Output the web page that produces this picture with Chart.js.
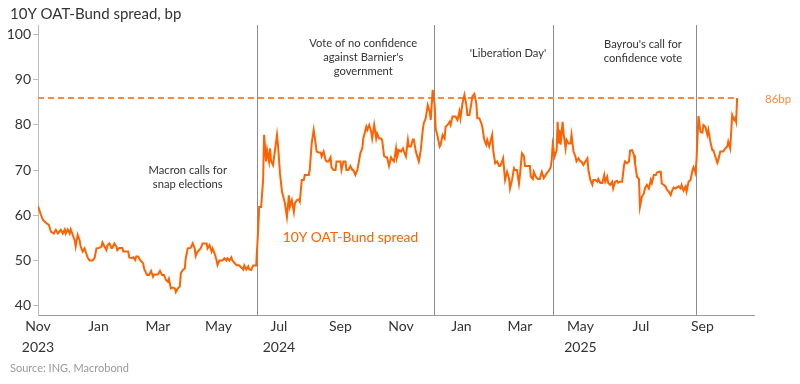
<!DOCTYPE html>
<html>
<head>
<meta charset="utf-8">
<script src="https://cdn.jsdelivr.net/npm/chart.js@4.4.1/dist/chart.umd.min.js"></script>
<style>
  html, body { margin: 0; padding: 0; background: #ffffff; }
  #wrap { width: 800px; height: 384px; position: relative; }
</style>
</head>
<body>
<div id="wrap"><canvas id="c" width="800" height="384"></canvas></div>
<script>
// ---------- DATA ----------
const chartTitle = "10Y OAT-Bund spread, bp";
const sourceText = "Source: ING, Macrobond";
const seriesName = "10Y OAT-Bund spread";

const dates = [
"2023-11-01","2023-11-04","2023-11-06","2023-11-09","2023-11-12","2023-11-14","2023-11-17","2023-11-19","2023-11-21","2023-11-24","2023-11-26","2023-11-28","2023-11-29",
"2023-12-01","2023-12-03","2023-12-04","2023-12-06","2023-12-08","2023-12-09","2023-12-11","2023-12-13","2023-12-14","2023-12-16","2023-12-18","2023-12-19","2023-12-21","2023-12-23","2023-12-26","2023-12-28","2023-12-30",
"2024-01-02","2024-01-04","2024-01-05","2024-01-07","2024-01-09","2024-01-10","2024-01-12","2024-01-14","2024-01-15","2024-01-17","2024-01-19","2024-01-20","2024-01-22","2024-01-25","2024-01-26","2024-01-31",
"2024-02-01","2024-02-03","2024-02-05","2024-02-07","2024-02-08","2024-02-10","2024-02-12","2024-02-15","2024-02-16","2024-02-19","2024-02-21","2024-02-23","2024-02-25","2024-02-26",
"2024-03-01","2024-03-03","2024-03-05","2024-03-07","2024-03-09","2024-03-11","2024-03-12","2024-03-14","2024-03-16","2024-03-18","2024-03-19","2024-03-21","2024-03-23","2024-03-24","2024-03-26","2024-03-28","2024-03-29","2024-03-31",
"2024-04-03","2024-04-05","2024-04-07","2024-04-08","2024-04-10","2024-04-13","2024-04-15","2024-04-19","2024-04-20","2024-04-22","2024-04-24","2024-04-25","2024-04-27","2024-04-29","2024-04-30",
"2024-05-02","2024-05-05","2024-05-07","2024-05-09","2024-05-10","2024-05-12","2024-05-14","2024-05-15","2024-05-19","2024-05-22","2024-05-26","2024-05-27","2024-05-29","2024-05-31",
"2024-06-01","2024-06-03","2024-06-05","2024-06-08","2024-06-10","2024-06-11","2024-06-13","2024-06-15","2024-06-16","2024-06-18","2024-06-19","2024-06-21","2024-06-22","2024-06-23","2024-06-25","2024-06-27","2024-06-29","2024-06-30",
"2024-07-02","2024-07-04","2024-07-05","2024-07-07","2024-07-09","2024-07-11","2024-07-12","2024-07-14","2024-07-16","2024-07-17","2024-07-19","2024-07-21","2024-07-22","2024-07-24","2024-07-26","2024-07-27","2024-07-31",
"2024-08-01","2024-08-03","2024-08-05","2024-08-06","2024-08-08","2024-08-10","2024-08-12","2024-08-13","2024-08-15","2024-08-17","2024-08-18","2024-08-20","2024-08-22","2024-08-23","2024-08-25","2024-08-27","2024-08-28",
"2024-09-01","2024-09-02","2024-09-04","2024-09-06","2024-09-07","2024-09-09","2024-09-11","2024-09-13","2024-09-14","2024-09-16","2024-09-18","2024-09-19","2024-09-21","2024-09-23","2024-09-24","2024-09-25","2024-09-27","2024-09-28","2024-09-30",
"2024-10-02","2024-10-03","2024-10-05","2024-10-07","2024-10-08","2024-10-10","2024-10-12","2024-10-13","2024-10-15","2024-10-17","2024-10-18","2024-10-20","2024-10-22","2024-10-23","2024-10-25","2024-10-27","2024-10-28","2024-10-30",
"2024-11-01","2024-11-03","2024-11-04","2024-11-06","2024-11-08","2024-11-09","2024-11-11","2024-11-13","2024-11-14","2024-11-16","2024-11-18","2024-11-19","2024-11-21","2024-11-23","2024-11-24","2024-11-26","2024-11-28","2024-11-30",
"2024-12-01","2024-12-03","2024-12-05","2024-12-06","2024-12-08","2024-12-10","2024-12-11","2024-12-13","2024-12-15","2024-12-16","2024-12-18","2024-12-20","2024-12-21","2024-12-23","2024-12-26","2024-12-28","2024-12-30","2024-12-31",
"2025-01-02","2025-01-04","2025-01-06","2025-01-07","2025-01-09","2025-01-11","2025-01-12","2025-01-14","2025-01-16","2025-01-17","2025-01-19","2025-01-21","2025-01-22","2025-01-24","2025-01-26","2025-01-27","2025-01-29",
"2025-02-01","2025-02-02","2025-02-04","2025-02-06","2025-02-08","2025-02-09","2025-02-11","2025-02-12","2025-02-14","2025-02-16","2025-02-18","2025-02-19","2025-02-21","2025-02-23","2025-02-24","2025-02-26","2025-02-28",
"2025-03-01","2025-03-03","2025-03-05","2025-03-06","2025-03-11","2025-03-12","2025-03-14","2025-03-15","2025-03-17","2025-03-19","2025-03-21","2025-03-22","2025-03-23","2025-03-25","2025-03-27","2025-03-28","2025-03-30",
"2025-04-01","2025-04-02","2025-04-03","2025-04-05","2025-04-07","2025-04-08","2025-04-09","2025-04-10","2025-04-11","2025-04-13","2025-04-14","2025-04-16","2025-04-17","2025-04-19","2025-04-21","2025-04-22","2025-04-24","2025-04-26","2025-04-27","2025-04-29",
"2025-05-01","2025-05-02","2025-05-04","2025-05-06","2025-05-08","2025-05-09","2025-05-11","2025-05-13","2025-05-14","2025-05-16","2025-05-18","2025-05-19","2025-05-21","2025-05-23","2025-05-25","2025-05-26","2025-05-28","2025-05-29","2025-05-31",
"2025-06-02","2025-06-03","2025-06-05","2025-06-07","2025-06-08","2025-06-10","2025-06-12","2025-06-14","2025-06-15","2025-06-17","2025-06-19","2025-06-20","2025-06-22","2025-06-24","2025-06-25","2025-06-27","2025-06-29","2025-06-30",
"2025-07-02","2025-07-04","2025-07-05","2025-07-07","2025-07-09","2025-07-11","2025-07-12","2025-07-14","2025-07-16","2025-07-17","2025-07-19","2025-07-21","2025-07-22","2025-07-24","2025-07-26","2025-07-27","2025-07-29","2025-07-31",
"2025-08-01","2025-08-03","2025-08-05","2025-08-06","2025-08-08","2025-08-10","2025-08-11","2025-08-13","2025-08-15","2025-08-16","2025-08-18","2025-08-20","2025-08-22","2025-08-23","2025-08-25","2025-08-26","2025-08-28","2025-08-30",
"2025-09-01","2025-09-02","2025-09-04","2025-09-06","2025-09-07","2025-09-09","2025-09-11","2025-09-12","2025-09-14","2025-09-16","2025-09-17","2025-09-19","2025-09-22","2025-09-24","2025-09-26","2025-09-27","2025-09-29",
"2025-10-01","2025-10-03","2025-10-04","2025-10-05","2025-10-06"
];

const spread = [
62.0,60.0,58.9,58.3,57.8,56.3,55.9,56.7,55.9,56.7,55.9,56.8,55.9,
56.8,55.9,56.8,55.6,54.4,53.0,55.6,54.4,53.0,51.9,52.6,51.9,50.6,49.9,49.9,50.4,52.6,
52.7,53.0,53.9,53.0,52.2,53.3,53.7,52.7,52.7,53.7,53.0,52.2,52.7,52.7,51.9,51.9,
50.6,50.4,50.6,50.0,50.8,50.8,50.0,49.3,48.1,46.7,46.7,47.6,46.3,46.8,
46.8,47.6,46.7,46.7,45.6,45.2,45.8,43.7,43.9,43.7,42.9,43.7,44.1,47.0,47.8,48.1,50.4,52.6,
52.7,53.7,52.6,50.9,51.9,52.6,53.7,53.7,52.6,53.3,51.9,52.6,51.5,50.0,48.9,
49.9,49.9,50.4,49.9,50.4,49.9,50.6,49.9,48.9,48.8,47.9,48.8,47.9,48.6,
47.9,47.8,48.8,48.8,56.7,61.8,61.8,67.8,77.8,71.9,74.4,71.9,74.8,72.0,71.1,74.4,77.8,75.6,
69.3,65.2,64.4,62.6,59.6,64.4,61.8,63.3,60.7,62.6,63.3,63.5,63.0,67.8,67.8,68.9,68.9,
70.0,75.9,78.9,77.4,74.1,73.9,73.9,73.0,74.1,72.2,71.9,71.9,72.8,70.6,70.0,70.0,71.9,
71.9,70.0,71.9,71.9,70.0,70.0,70.9,70.0,70.0,68.9,70.0,71.1,73.7,74.8,77.0,77.8,79.6,78.9,80.0,
78.5,77.0,80.0,77.0,78.1,77.0,77.0,76.7,73.1,72.8,72.8,70.9,72.8,72.4,71.9,74.8,72.8,74.4,
74.1,74.8,74.1,73.0,76.7,75.2,75.2,76.8,76.8,74.1,72.6,71.9,74.4,78.9,80.4,81.5,84.4,83.0,
81.1,87.8,84.4,79.3,77.4,75.2,75.6,77.8,77.0,79.6,80.0,80.7,80.0,81.9,81.9,81.1,83.0,81.5,
84.8,86.7,84.4,82.2,82.2,84.8,86.3,86.9,84.8,81.5,81.5,80.4,79.6,76.7,75.6,76.7,75.2,
77.8,74.4,71.5,71.9,70.9,70.9,71.9,72.6,67.8,69.6,68.1,65.9,67.8,70.4,70.0,70.0,67.0,
68.9,73.7,73.1,70.9,70.9,68.5,68.0,69.6,68.5,68.0,68.0,68.9,69.6,68.2,68.9,69.3,69.8,
70.6,72.2,75.6,73.0,74.4,80.7,75.9,78.9,75.6,80.7,78.1,74.8,76.7,75.9,75.9,77.8,74.1,73.0,71.9,72.6,
71.9,71.9,71.1,71.9,72.6,70.0,67.8,66.7,67.8,67.8,67.4,68.0,67.1,67.1,68.9,67.4,68.5,67.1,66.7,
67.4,65.9,67.4,67.6,67.2,67.4,67.4,71.1,71.9,71.5,71.9,74.3,74.4,73.3,71.5,68.5,68.0,61.8,
64.1,64.8,65.9,66.7,65.9,67.8,67.1,68.9,68.9,69.4,69.6,69.6,67.0,66.7,66.3,65.7,65.2,64.4,
65.2,66.1,65.9,66.1,66.4,65.9,66.7,65.4,66.3,65.2,67.4,67.8,70.0,70.6,69.3,72.2,82.0,78.5,
78.3,80.0,79.6,77.8,78.9,76.3,74.4,74.4,73.0,71.6,72.2,74.1,74.1,74.8,75.2,76.3,74.8,
82.2,81.1,81.5,80.7,86.0
];

// reference level
const refLevel = 86;
const refLabel = "86bp";

// axis
const axisStart = "2023-11-01";
const axisEnd = "2025-10-23";
const tickDates = ["2023-11-01","2024-01-01","2024-03-01","2024-05-01","2024-07-01","2024-09-01","2024-11-01","2025-01-01","2025-03-01","2025-05-01","2025-07-01","2025-09-01"];
const tickMonths = ["Nov","Jan","Mar","May","Jul","Sep","Nov","Jan","Mar","May","Jul","Sep"];
const tickYears  = ["2023","","","","2024","","","","","2025","",""];
const yTicks = [40,50,60,70,80,90,100];
const yMin = 37.8, yMax = 102.2;

// events
const eventDates = ["2024-06-09","2024-12-04","2025-04-03","2025-08-26"];
const eventLabels = [
  ["Macron calls for","snap elections"],
  ["Vote of no confidence","against Barnier's","government"],
  ["'Liberation Day'"],
  ["Bayrou's call for","confidence vote"]
];

// ---------- HELPERS ----------
const DAY = 86400000;
const t0 = Date.parse(axisStart + "T00:00:00Z");
const dayOf = d => (Date.parse(d + "T00:00:00Z") - t0) / DAY;

// text anchors (data coordinates: date, value)
const eventAnchors = [
  {date:"2024-03-31", value:70.0},
  {date:"2024-09-24", value:98.2},
  {date:"2025-02-17", value:96.0},
  {date:"2025-07-03", value:97.8}
];
const seriesLabelAnchor = {date:"2024-09-11", value:55.1};

const ORANGE = "#FF6200";
const DASH_ORANGE = "#FF8A3D";
const TEXT = "#333333";
const FONT = "Lato";

const overlay = {
  id: "overlay",
  beforeDatasetsDraw(chart) {
    const {ctx, chartArea, scales:{x}} = chart;
    ctx.save();
    ctx.strokeStyle = "#8c8c8c";
    ctx.lineWidth = 1;
    eventDates.forEach(d => {
      const px = Math.round(x.getPixelForValue(dayOf(d))) + 0.5;
      ctx.beginPath();
      ctx.moveTo(px, chartArea.top);
      ctx.lineTo(px, chartArea.bottom);
      ctx.stroke();
    });
    ctx.restore();
  },
  afterDraw(chart) {
    const {ctx, chartArea, scales:{x, y}} = chart;
    ctx.save();
    ctx.textBaseline = "middle";
    // title
    ctx.fillStyle = TEXT;
    ctx.font = "15px " + FONT;
    ctx.textAlign = "left";
    ctx.fillText(chartTitle, 10, 14);
    // source
    ctx.fillStyle = "#9a9a9a";
    ctx.font = "11px " + FONT;
    ctx.fillText(sourceText, 10, 368);
    // event annotations
    ctx.fillStyle = TEXT;
    ctx.font = "11.2px " + FONT;
    ctx.textAlign = "center";
    eventLabels.forEach((lines, i) => {
      const a = eventAnchors[i];
      const cx = x.getPixelForValue(dayOf(a.date));
      const cy = y.getPixelForValue(a.value);
      lines.forEach((ln, j) => ctx.fillText(ln, cx, cy + j * 14));
    });
    // series label
    ctx.fillStyle = ORANGE;
    ctx.font = "13.8px " + FONT;
    ctx.fillText(seriesName, x.getPixelForValue(dayOf(seriesLabelAnchor.date)), y.getPixelForValue(seriesLabelAnchor.value));
    // ref label
    ctx.fillStyle = DASH_ORANGE;
    ctx.font = "11.5px " + FONT;
    ctx.textAlign = "left";
    ctx.fillText(refLabel, chartArea.right + 11, y.getPixelForValue(refLevel) + 1);
    ctx.restore();
  }
};

const lastDate = dates[dates.length - 1];

new Chart(document.getElementById("c"), {
  type: "line",
  data: {
    datasets: [
      {
        label: seriesName,
        data: dates.map((d, i) => ({x: dayOf(d), y: spread[i]})),
        borderColor: ORANGE,
        borderWidth: 2,
        pointRadius: 0,
        tension: 0,
        order: 1
      },
      {
        label: refLabel,
        data: [{x: dayOf(axisStart), y: refLevel}, {x: dayOf(lastDate), y: refLevel}],
        borderColor: DASH_ORANGE,
        borderWidth: 2,
        borderDash: [6, 4],
        pointRadius: 0,
        order: 2
      }
    ]
  },
  options: {
    responsive: false,
    devicePixelRatio: 1,
    animation: false,
    layout: { padding: { top: 25, right: 46, left: 0, bottom: 0 } },
    plugins: { legend: { display: false }, tooltip: { enabled: false } },
    scales: {
      x: {
        type: "linear",
        min: dayOf(axisStart),
        max: dayOf(axisEnd),
        afterBuildTicks: s => { s.ticks = tickDates.map(d => ({value: dayOf(d)})); },
        afterFit: s => { s.height = 69; },
        grid: { display: false, drawTicks: false },
        border: { display: true, color: "#9a9a9a", width: 1 },
        ticks: {
          autoSkip: false,
          maxRotation: 0,
          padding: 1,
          color: TEXT,
          font: { family: FONT, size: 14, lineHeight: 1.5 },
          callback: (v, i) => tickYears[i] ? [tickMonths[i], tickYears[i]] : tickMonths[i]
        }
      },
      y: {
        min: yMin,
        max: yMax,
        afterBuildTicks: s => { s.ticks = yTicks.map(v => ({value: v})); },
        afterFit: s => { s.width = 38; },
        grid: { display: true, drawOnChartArea: false, drawTicks: true, tickLength: 5, color: "#bdbdbd" },
        border: { display: true, color: "#bdbdbd", width: 1 },
        ticks: {
          padding: 2,
          color: TEXT,
          font: { family: FONT, size: 14 }
        }
      }
    }
  },
  plugins: [overlay]
});
</script>
</body>
</html>
